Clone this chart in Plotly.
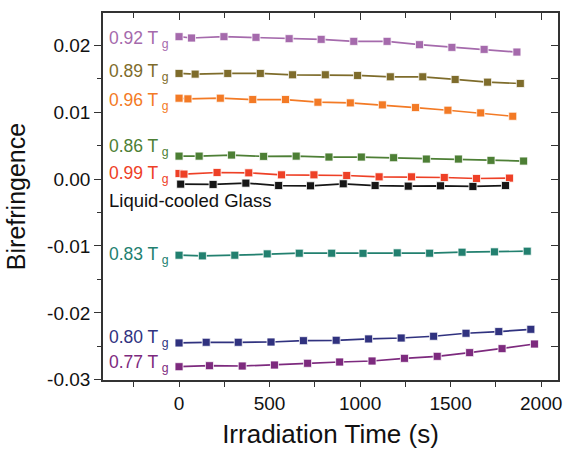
import plotly.graph_objects as go

# ---- data ----
t_092 = [0, 69, 248, 425, 608, 785, 965, 1149, 1328, 1507, 1685, 1866]
v_092 = [0.0213, 0.0211, 0.0213, 0.0212, 0.0210, 0.0209, 0.0206, 0.0206, 0.0201, 0.0197, 0.0194, 0.0190]

t_089 = [0, 89, 269, 449, 627, 808, 986, 1167, 1346, 1525, 1704, 1885]
v_089 = [0.0158, 0.0157, 0.0158, 0.0158, 0.0156, 0.0156, 0.0155, 0.0153, 0.0153, 0.0149, 0.0145, 0.0143]

t_096 = [0, 49, 228, 407, 588, 767, 946, 1123, 1306, 1485, 1666, 1843]
v_096 = [0.0121, 0.0120, 0.0121, 0.0119, 0.0119, 0.0115, 0.0114, 0.0111, 0.0107, 0.0103, 0.0099, 0.0094]

t_086 = [0, 111, 290, 467, 647, 828, 1007, 1185, 1366, 1543, 1723, 1903]
v_086 = [0.00344, 0.00344, 0.0036, 0.0034, 0.00344, 0.0033, 0.0033, 0.0032, 0.0030, 0.0030, 0.0028, 0.0027]

t_099 = [0, 27, 210, 385, 566, 745, 926, 1105, 1284, 1465, 1643, 1825]
v_099 = [0.00084, 0.00075, 0.00099, 0.00094, 0.00064, 0.00064, 0.00054, 0.00034, 0.00034, 0.00024, 0.00009, 0.00015]

t_lcg = [9, 188, 369, 550, 726, 907, 1083, 1266, 1444, 1623, 1803]
v_lcg = [-0.00075, -0.0008, -0.0006, -0.00096, -0.0010, -0.0007, -0.00096, -0.00105, -0.0010, -0.0011, -0.00096]

t_083 = [0, 129, 308, 487, 664, 843, 1016, 1205, 1384, 1563, 1742, 1923]
v_083 = [-0.01138, -0.01148, -0.01138, -0.01118, -0.01108, -0.01108, -0.0111, -0.01103, -0.01108, -0.01093, -0.01088, -0.01078]

t_080 = [0, 150, 327, 508, 687, 868, 1047, 1227, 1406, 1585, 1766, 1943]
v_080 = [-0.0245, -0.0244, -0.0244, -0.02436, -0.02416, -0.0241, -0.0239, -0.02376, -0.0235, -0.02305, -0.0228, -0.02246]

t_077 = [0, 168, 349, 527, 710, 887, 1066, 1245, 1426, 1605, 1784, 1963]
v_077 = [-0.02805, -0.0279, -0.02795, -0.0278, -0.02754, -0.02735, -0.0272, -0.0268, -0.0265, -0.02595, -0.02535, -0.02466]

series_names = ["0.92 T", "0.89 T", "0.96 T", "0.86 T", "0.99 T", "Liquid-cooled Glass", "0.83 T", "0.80 T", "0.77 T"]
series_t = [t_092, t_089, t_096, t_086, t_099, t_lcg, t_083, t_080, t_077]
series_v = [v_092, v_089, v_096, v_086, v_099, v_lcg, v_083, v_080, v_077]
series_sub = ["g", "g", "g", "g", "g", "", "g", "g", "g"]
series_colors = ["#A56AAC", "#7E6C2B", "#F37A25", "#4D7F35", "#EE4026", "#161616", "#22806F", "#30327F", "#7D2A7E"]
label_y = [0.0209, 0.0159, 0.0116, 0.0047, 0.00064, -0.0032, -0.0114, -0.0238, -0.0275]

y_tick_vals = [-0.03, -0.02, -0.01, 0.00, 0.01, 0.02]
y_tick_text = ["-0.03", "-0.02", "-0.01", "0.00", "0.01", "0.02"]
x_tick_vals = [0, 500, 1000, 1500, 2000]
x_tick_text = ["0", "500", "1000", "1500", "2000"]

X_RANGE = [-420, 2093]
Y_RANGE = [-0.03004, 0.02484]
AX = "#333333"
FONT = "Liberation Sans, Arial, sans-serif"

fig = go.Figure()
for name, t, v, c in zip(series_names, series_t, series_v, series_colors):
    fig.add_trace(go.Scatter(
        x=t, y=v, mode="lines+markers", name=name,
        line=dict(color=c, width=1.7),
        marker=dict(symbol="square", size=8, color=c,
                    line=dict(color="rgba(255,255,255,0.75)", width=1)),
        showlegend=False,
    ))

# invisible helper trace so the mirrored top/right frame axes are drawn
fig.add_trace(go.Scatter(x=t_092[:1], y=v_092[:1], xaxis="x2", yaxis="y2",
                         mode="markers", marker=dict(opacity=0), hoverinfo="skip",
                         showlegend=False))

for name, sub, c, ly in zip(series_names, series_sub, series_colors, label_y):
    txt = name + (f"<sub> {sub}</sub>" if sub else "")
    fig.add_annotation(
        x=0.009, xref="paper", y=ly, yref="y", xanchor="left", yanchor="middle",
        text=txt, showarrow=False,
        font=dict(size=17.5 if sub else 18.5, color=c if sub else "#111111", family=FONT),
    )

fig.update_layout(
    width=570, height=456,
    margin=dict(l=103, r=8, t=13, b=76),
    paper_bgcolor="white", plot_bgcolor="white",
    font=dict(family=FONT, color="#111111"),
    xaxis=dict(
        range=X_RANGE, showline=True, linecolor=AX, linewidth=1.6,
        showgrid=False, zeroline=False,
        tickmode="array", tickvals=x_tick_vals, ticktext=x_tick_text,
        ticks="outside", ticklen=5, tickwidth=1.4, tickcolor=AX,
        minor=dict(dtick=250, tick0=0, ticks="outside", ticklen=5, tickwidth=1.4, tickcolor=AX, showgrid=False),
        tickfont=dict(size=19, color="#111111"),
        title=dict(text="Irradiation Time (s)", font=dict(size=26, color="#111111"), standoff=12),
    ),
    yaxis=dict(
        range=Y_RANGE, showline=True, linecolor=AX, linewidth=1.6,
        showgrid=False, zeroline=False,
        tickmode="array", tickvals=y_tick_vals, ticktext=y_tick_text,
        ticks="outside", ticklen=7, tickwidth=1.4, tickcolor=AX,
        minor=dict(dtick=0.005, tick0=0, ticks="outside", ticklen=4, tickwidth=1.4, tickcolor=AX, showgrid=False),
        tickfont=dict(size=19, color="#111111"),
        title=dict(text="Birefringence", font=dict(size=25, color="#111111"), standoff=14),
    ),
    xaxis2=dict(
        range=X_RANGE, overlaying="x", side="top", anchor="y",
        showline=True, linecolor=AX, linewidth=1.6, showgrid=False, zeroline=False,
        showticklabels=False, tick0=0, dtick=500,
        ticks="inside", ticklen=7, tickwidth=1.4, tickcolor=AX,
        minor=dict(dtick=250, tick0=0, ticks="inside", ticklen=5, tickwidth=1.4, tickcolor=AX, showgrid=False),
    ),
    yaxis2=dict(
        range=Y_RANGE, overlaying="y", side="right", anchor="x",
        showline=True, linecolor=AX, linewidth=1.6, showgrid=False, zeroline=False,
        showticklabels=False, tick0=0, dtick=0.005,
        ticks="inside", ticklen=7, tickwidth=1.4, tickcolor=AX,
    ),
)

fig.write_html("out.html")
